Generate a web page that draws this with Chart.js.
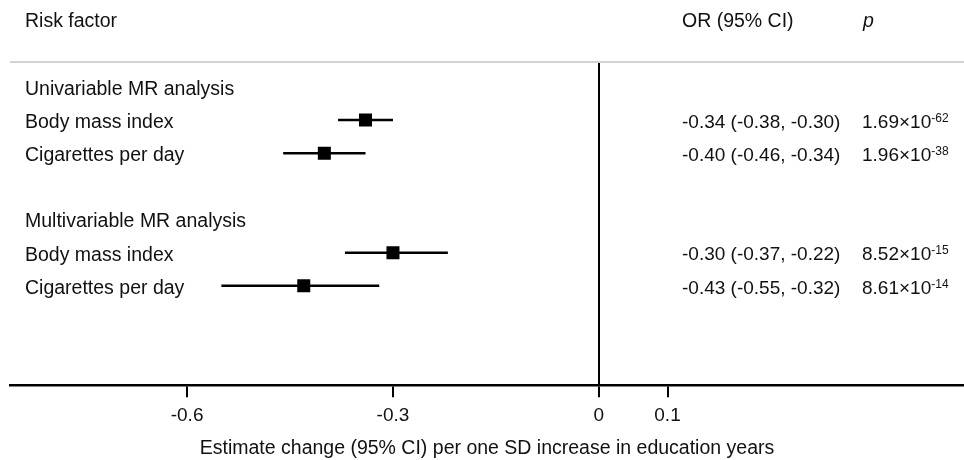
<!DOCTYPE html>
<html lang="en">
<head>
    <meta charset="UTF-8">
    <title>Forest plot</title>
    <style>
      body { margin: 0; background: #fff; }
    </style>
</head>
<body>

      <canvas id="myChart" width="964" height="460"></canvas>

      <script src="https://cdn.jsdelivr.net/npm/chart.js"></script>

      <script>
        // data
        const groups = ["Univariable MR analysis", "Multivariable MR analysis"];
        const factors = [
          ["Body mass index", "Cigarettes per day"],
          ["Body mass index", "Cigarettes per day"]
        ];
        const estimate = [[-0.34, -0.40], [-0.30, -0.43]];
        const ciLow = [[-0.38, -0.46], [-0.37, -0.55]];
        const ciHigh = [[-0.30, -0.34], [-0.22, -0.32]];
        const pMantissa = [["1.69", "1.96"], ["8.52", "8.61"]];
        const pExponent = [["-62", "-38"], ["-15", "-14"]];
        const xTicks = [-0.6, -0.3, 0, 0.1];
        const xTickLabels = ["-0.6", "-0.3", "0", "0.1"];

        const FONT = "'Liberation Sans', Arial, Helvetica, sans-serif";
        const INK = "#111";

        // lay the rows out: group header, its items, then a blank row
        let rows = [];
        let r = 0;
        groups.forEach(function(g, gi){
          rows.push({type: "group", y: r, text: g});
          r++;
          factors[gi].forEach(function(f, fi){
            rows.push({type: "item", y: r, text: f, est: estimate[gi][fi],
                       lo: ciLow[gi][fi], hi: ciHigh[gi][fi],
                       pm: pMantissa[gi][fi], pe: pExponent[gi][fi]});
            r++;
          });
          r++;
        });
        let items = rows.filter(function(x){ return x.type === "item"; });

        let datasets = [{
          type: "scatter",
          order: 0,
          data: items.map(function(it){ return {x: it.est, y: it.y}; }),
          pointStyle: "rect",
          pointRadius: 9.2,
          pointBorderWidth: 0,
          backgroundColor: "#000",
          borderColor: "#000"
        }];
        items.forEach(function(it){
          datasets.push({
            type: "line",
            order: 1,
            data: [{x: it.lo, y: it.y}, {x: it.hi, y: it.y}],
            borderColor: "#000",
            borderWidth: 2.5,
            pointRadius: 0,
            fill: false
          });
        });

        let fmt = function(v){ return v.toFixed(2); };

        let tablePlugin = {
          id: "table",
          afterDraw: function(chart){
            let ctx = chart.ctx;
            let ys = chart.scales.y;
            let area = chart.chartArea;
            ctx.save();
            // light rule under the header
            ctx.strokeStyle = "#d2d2d2";
            ctx.lineWidth = 2;
            ctx.beginPath();
            ctx.moveTo(area.left, area.top);
            ctx.lineTo(area.right, area.top);
            ctx.stroke();

            ctx.fillStyle = INK;
            ctx.textBaseline = "middle";
            ctx.textAlign = "left";
            let hy = ys.getPixelForValue(-2) + 1.5;
            ctx.font = "19.5px " + FONT;
            ctx.fillText("Risk factor", 25, hy);
            ctx.fillText("OR (95% CI)", 682, hy);
            ctx.font = "italic 19.5px " + FONT;
            ctx.fillText("p", 863, hy);

            rows.forEach(function(row){
              let y = ys.getPixelForValue(row.y) + 2.5;
              ctx.font = "19.5px " + FONT;
              ctx.fillText(row.text, 25, y);
              if (row.type !== "item") return;
              ctx.font = "19px " + FONT;
              ctx.fillText(fmt(row.est) + " (" + fmt(row.lo) + ", " + fmt(row.hi) + ")", 682, y);
              let base = row.pm + "\u00d710";
              ctx.fillText(base, 862, y);
              let w = ctx.measureText(base).width;
              ctx.font = "12px " + FONT;
              ctx.fillText(row.pe, 862 + w, y - 4);
            });
            ctx.restore();
          }
        };

        let name = document.getElementById("myChart").getContext("2d");
        let config = {
          type: "scatter",
          data: {datasets: datasets},
          options: {
            responsive: false,
            animation: false,
            layout: {autoPadding: false, padding: {left: 10, right: 0, top: 62, bottom: 0}},
            plugins: {legend: {display: false}, tooltip: {enabled: false}},
            scales: {
              x: {
                type: "linear",
                min: -0.858,
                max: 0.532,
                afterBuildTicks: function(axis){
                  axis.ticks = xTicks.map(function(v){ return {value: v}; });
                },
                ticks: {
                  autoSkip: false,
                  maxRotation: 0,
                  padding: 7,
                  color: INK,
                  font: {family: FONT, size: 19},
                  callback: function(v){
                    let i = xTicks.indexOf(v);
                    return i >= 0 ? xTickLabels[i] : "";
                  }
                },
                grid: {
                  drawOnChartArea: true,
                  color: function(c){ return c.tick && c.tick.value === 0 ? "#000" : "rgba(0,0,0,0)"; },
                  lineWidth: 2,
                  drawTicks: true,
                  tickLength: 12,
                  tickWidth: 2,
                  tickColor: "#000"
                },
                border: {display: true, color: "#000", width: 2.5},
                title: {
                  display: true,
                  text: "Estimate change (95% CI) per one SD increase in education years",
                  color: INK,
                  font: {family: FONT, size: 19.5},
                  padding: {top: 2.5, bottom: 0}
                }
              },
              y: {
                type: "linear",
                display: false,
                reverse: true,
                min: -0.75,
                max: 9
              }
            }
          },
          plugins: [tablePlugin]
        };
        let MyChart = new Chart(name, config);
      </script>

</body>
</html>
